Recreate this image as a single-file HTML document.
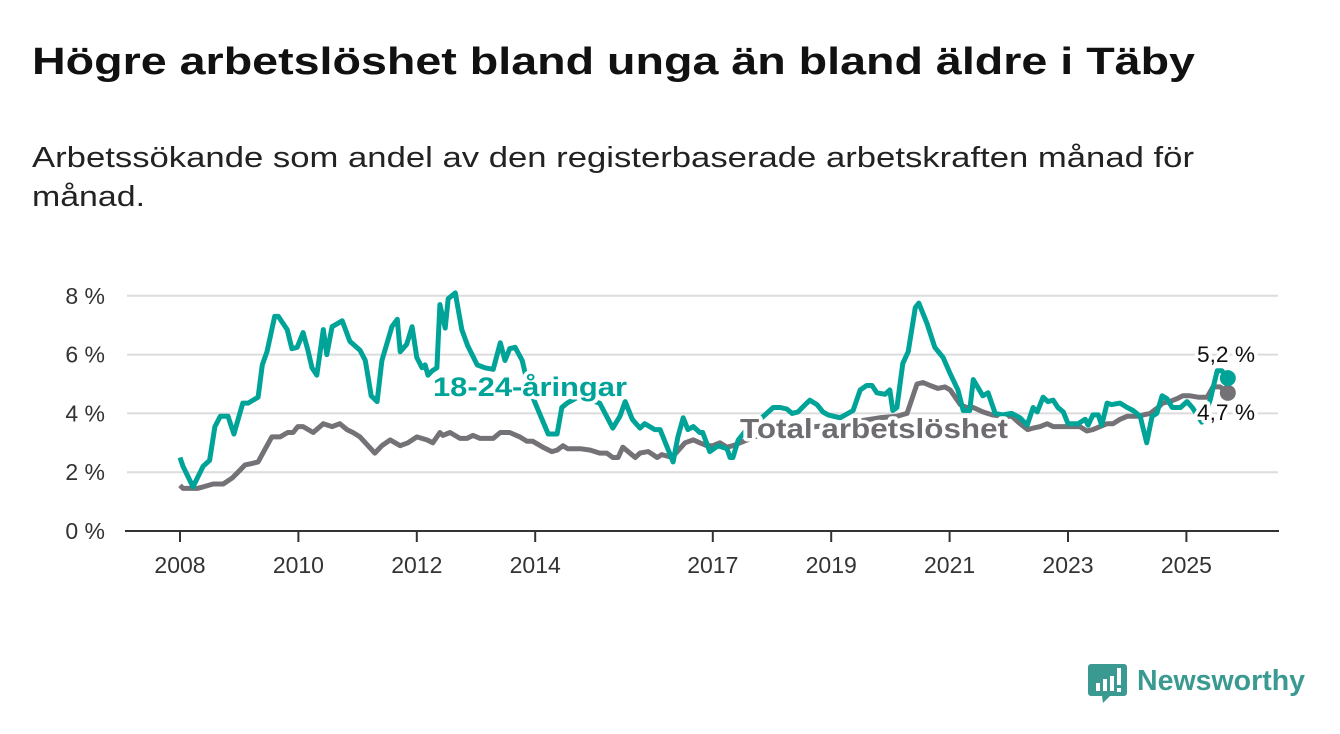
<!DOCTYPE html>
<html><head><meta charset="utf-8"><style>
html,body{margin:0;padding:0;background:#fff;}
svg{display:block;font-family:"Liberation Sans","DejaVu Sans",sans-serif;}
</style></head><body>
<svg id="chart" width="1340" height="734" viewBox="0 0 1340 734">
<text x="32" y="74" font-size="38" font-weight="bold" fill="#111" textLength="1163" lengthAdjust="spacingAndGlyphs">Högre arbetslöshet bland unga än bland äldre i Täby</text>
<text x="32" y="167" font-size="29" fill="#222" textLength="1162" lengthAdjust="spacingAndGlyphs">Arbetssökande som andel av den registerbaserade arbetskraften månad för</text>
<text x="32" y="206" font-size="29" fill="#222" textLength="113" lengthAdjust="spacingAndGlyphs">månad.</text>
<g id="grid"></g>
<g id="series"></g>
<g id="labels"></g>
<g>
<path d="M1091,664 h33 a3,3 0 0 1 3,3 v26 a3,3 0 0 1 -3,3 h-14 l-7,7 l-1,-7 h-11 a3,3 0 0 1 -3,-3 v-26 a3,3 0 0 1 3,-3z" fill="#3a9a91"/>
<rect x="1096" y="683" width="4" height="8" fill="#fff"/><rect x="1103" y="679" width="4" height="12" fill="#fff"/><rect x="1110" y="676" width="4" height="15" fill="#fff"/><rect x="1117" y="668" width="4" height="17" fill="#fff"/><rect x="1117" y="688" width="4" height="4" fill="#fff"/>
<text x="1137" y="690" font-size="29" font-weight="bold" fill="#3a9a91" textLength="168" lengthAdjust="spacingAndGlyphs">Newsworthy</text>
</g>
</svg>
<script>
const yTicks = [0, 2, 4, 6, 8];
const yTickLabels = ["0 %", "2 %", "4 %", "6 %", "8 %"];
const xTicks = [2008, 2010, 2012, 2014, 2017, 2019, 2021, 2023, 2025];
const xTickLabels = ["2008", "2010", "2012", "2014", "2017", "2019", "2021", "2023", "2025"];
const youthDates = [2008.0,2008.05,2008.22,2008.39,2008.5,2008.59,2008.68,2008.81,2008.91,2009.06,2009.15,2009.32,2009.39,2009.47,2009.6,2009.66,2009.81,2009.89,2009.98,2010.08,2010.16,2010.23,2010.31,2010.42,2010.48,2010.57,2010.74,2010.87,2011.04,2011.13,2011.23,2011.33,2011.41,2011.58,2011.67,2011.72,2011.83,2011.92,2012.0,2012.09,2012.14,2012.19,2012.26,2012.34,2012.39,2012.48,2012.53,2012.65,2012.76,2012.86,2013.02,2013.15,2013.29,2013.41,2013.49,2013.57,2013.66,2013.78,2013.88,2014.0,2014.22,2014.37,2014.45,2014.54,2014.76,2014.93,2015.09,2015.31,2015.43,2015.52,2015.64,2015.77,2015.85,2016.02,2016.11,2016.33,2016.41,2016.5,2016.58,2016.67,2016.78,2016.83,2016.95,2017.09,2017.24,2017.29,2017.34,2017.43,2017.63,2017.8,2018.02,2018.14,2018.25,2018.34,2018.44,2018.56,2018.64,2018.76,2018.86,2018.95,2019.15,2019.37,2019.49,2019.6,2019.69,2019.77,2019.91,2019.99,2020.04,2020.11,2020.21,2020.3,2020.42,2020.48,2020.62,2020.75,2020.89,2021.01,2021.14,2021.23,2021.34,2021.4,2021.56,2021.65,2021.77,2021.9,2022.05,2022.19,2022.31,2022.41,2022.48,2022.58,2022.66,2022.75,2022.83,2022.92,2023.0,2023.17,2023.29,2023.34,2023.42,2023.51,2023.57,2023.66,2023.74,2023.88,2024.0,2024.1,2024.22,2024.33,2024.42,2024.5,2024.59,2024.67,2024.76,2024.9,2025.01,2025.1,2025.18,2025.26,2025.4,2025.52,2025.6,2025.7];
const youthValues = [2.5,2.2,1.5,2.2,2.4,3.55,3.9,3.9,3.3,4.35,4.35,4.55,5.65,6.1,7.3,7.3,6.85,6.2,6.25,6.75,6.15,5.55,5.3,6.85,6.0,6.95,7.15,6.45,6.15,5.8,4.6,4.4,5.8,6.95,7.2,6.1,6.35,6.95,5.9,5.55,5.65,5.3,5.45,5.55,7.7,6.9,7.9,8.1,6.85,6.3,5.65,5.55,5.5,6.4,5.8,6.2,6.25,5.8,4.95,4.35,3.3,3.3,4.2,4.35,4.6,4.45,4.35,3.5,3.9,4.4,3.8,3.5,3.65,3.45,3.45,2.35,3.2,3.85,3.45,3.55,3.35,3.35,2.7,2.9,2.8,2.5,2.5,3.1,3.6,3.8,4.2,4.2,4.15,4.0,4.05,4.3,4.45,4.3,4.05,3.95,3.85,4.1,4.8,4.95,4.95,4.7,4.65,4.8,4.1,4.2,5.7,6.1,7.6,7.75,7.05,6.25,5.9,5.35,4.8,4.1,4.1,5.15,4.6,4.7,4.0,3.95,4.0,3.85,3.6,4.2,4.05,4.55,4.4,4.45,4.2,4.05,3.65,3.65,3.8,3.6,3.95,3.95,3.6,4.35,4.3,4.35,4.2,4.1,3.9,3.0,3.9,4.0,4.6,4.5,4.2,4.2,4.4,4.2,3.95,3.7,4.45,5.45,5.45,5.2];
const totalDates = [2008.0,2008.05,2008.29,2008.39,2008.56,2008.73,2008.88,2008.98,2009.1,2009.22,2009.32,2009.4,2009.55,2009.69,2009.82,2009.91,2009.99,2010.08,2010.25,2010.42,2010.57,2010.7,2010.82,2010.92,2011.04,2011.29,2011.41,2011.55,2011.72,2011.85,2012.0,2012.17,2012.27,2012.39,2012.44,2012.56,2012.73,2012.85,2012.95,2013.07,2013.29,2013.41,2013.57,2013.74,2013.86,2013.96,2014.13,2014.28,2014.37,2014.47,2014.55,2014.76,2014.93,2015.09,2015.21,2015.31,2015.4,2015.48,2015.6,2015.69,2015.77,2015.91,2016.06,2016.14,2016.31,2016.4,2016.53,2016.67,2016.78,2016.9,2017.0,2017.12,2017.24,2017.34,2017.46,2017.71,2018.05,2018.47,2018.98,2019.49,2019.82,2020.11,2020.28,2020.45,2020.55,2020.67,2020.8,2020.92,2021.01,2021.18,2021.29,2021.4,2021.56,2021.72,2021.89,2022.05,2022.19,2022.32,2022.41,2022.53,2022.65,2022.75,2022.86,2023.03,2023.2,2023.32,2023.42,2023.54,2023.66,2023.76,2023.88,2024.0,2024.17,2024.27,2024.39,2024.52,2024.6,2024.72,2024.84,2024.94,2025.06,2025.2,2025.35,2025.45,2025.57,2025.7];
const totalValues = [1.55,1.45,1.45,1.5,1.6,1.6,1.8,2.0,2.25,2.3,2.35,2.65,3.2,3.2,3.35,3.35,3.55,3.55,3.35,3.65,3.55,3.65,3.45,3.35,3.2,2.65,2.9,3.1,2.9,3.0,3.2,3.1,3.0,3.35,3.25,3.35,3.15,3.15,3.25,3.15,3.15,3.35,3.35,3.2,3.05,3.05,2.85,2.7,2.75,2.9,2.8,2.8,2.75,2.65,2.65,2.5,2.5,2.85,2.65,2.5,2.65,2.7,2.5,2.6,2.5,2.7,3.0,3.1,3.0,2.9,2.9,3.0,2.85,2.9,3.0,3.2,3.4,3.5,3.6,3.75,3.85,3.9,4.0,5.0,5.05,4.95,4.85,4.9,4.8,4.3,4.2,4.2,4.05,3.95,3.9,3.9,3.65,3.45,3.5,3.55,3.65,3.55,3.55,3.55,3.55,3.4,3.45,3.55,3.65,3.65,3.8,3.9,3.9,3.95,4.0,4.2,4.35,4.4,4.5,4.6,4.6,4.55,4.55,4.9,4.9,4.7];

const NS = "http://www.w3.org/2000/svg";
function xScale(yr){ return 180 + (yr - 2008) * 59.2; }
function yScale(v){ return 531 - v * 29.4; }
function mk(tag, attrs, parent){ const e = document.createElementNS(NS, tag); for (const k in attrs) e.setAttribute(k, attrs[k]); parent.appendChild(e); return e; }

const grid = document.getElementById('grid');
yTicks.forEach((t, i) => {
  if (t > 0) {
    const gl = mk('line', {x1:127, x2:1278, y1:yScale(t), y2:yScale(t), stroke:'#dcdcdc', 'stroke-width':2}, grid);
    
    
  }
  const tl = mk('text', {x:105, y:yScale(t) + 8, 'text-anchor':'end', 'font-size':23, fill:'#333'}, grid);
  tl.textContent = yTickLabels[i];
  
  
});
const axis = mk('line', {x1:125, x2:1279, y1:531, y2:531, stroke:'#333', 'stroke-width':2}, grid);


xTicks.forEach((t, i) => {
  const tk = mk('line', {x1:xScale(t), x2:xScale(t), y1:531, y2:542, stroke:'#333', 'stroke-width':2}, grid);
  
  
  const tl = mk('text', {x:xScale(t), y:573, 'text-anchor':'middle', 'font-size':23, fill:'#333'}, grid);
  tl.textContent = xTickLabels[i];
  
  
});

const series = document.getElementById('series');
function pathFor(d, v){ return d.map((x, i) => (i ? 'L' : 'M') + xScale(x).toFixed(1) + ',' + yScale(v[i]).toFixed(1)).join(''); }
const tp = mk('path', {d:pathFor(totalDates, totalValues), fill:'none', stroke:'#747276', 'stroke-width':5, 'stroke-linejoin':'round'}, series);


const yp = mk('path', {d:pathFor(youthDates, youthValues), fill:'none', stroke:'#00a398', 'stroke-width':5, 'stroke-linejoin':'round'}, series);


const td = mk('circle', {cx:xScale(totalDates[totalDates.length-1]), cy:yScale(totalValues[totalValues.length-1]), r:8, fill:'#747276'}, series);


const yd = mk('circle', {cx:xScale(youthDates[youthDates.length-1]), cy:yScale(youthValues[youthValues.length-1]), r:8, fill:'#00a398'}, series);



const labels = document.getElementById('labels');
function lab(txt, x, y, size, col, bold, len){
  const t = mk('text', {x:x, y:y, 'font-size':size, fill:col, 'font-weight':bold ? 'bold' : 'normal', stroke:'#fff', 'stroke-width':7, 'stroke-linejoin':'round', 'paint-order':'stroke', textLength:len, lengthAdjust:'spacingAndGlyphs'}, labels);
  t.textContent = txt;
  return t;
}
const l1 = lab('18-24-åringar', 433, 396, 27, '#00a398', true, 194);


const l2 = lab('Total arbetslöshet', 740, 438, 28, '#6e6c70', true, 268);


const l3 = lab('5,2 %', 1197, 362, 22, '#111', false, 58);


const l4 = lab('4,7 %', 1197, 420, 22, '#111', false, 58);


</script>
</body></html>
